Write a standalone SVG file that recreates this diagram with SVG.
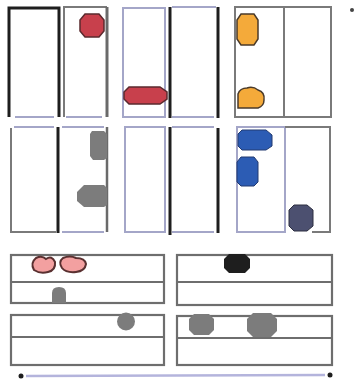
<svg xmlns="http://www.w3.org/2000/svg" width="354" height="379" viewBox="0 0 354 379">
<style>
.blk{fill:none;stroke:#1e1e1e;stroke-width:3}
.gry{fill:none;stroke:#7a7a7a;stroke-width:2}
.lav{fill:none;stroke:#a4a6c8;stroke-width:2}
.box{fill:none;stroke:#6e6e6e;stroke-width:2.2}
.red{fill:#c8404c;stroke:#5a2a2e;stroke-width:1.5}
.org{fill:#f4aa3a;stroke:#4a3a2a;stroke-width:1.5}
.blu{fill:#2c5cb4;stroke:#223a70;stroke-width:1}
.gb{fill:#7c7c7c}
</style>
<rect width="354" height="379" fill="#ffffff"/>
<g id="top-row">
  <path class="blk" d="M9,117 V8 H59 V117"/>
  <line class="lav" x1="15" y1="117" x2="54" y2="117"/>
  <path class="gry" d="M64,117 V7 H107"/>
  <line x1="107" y1="7" x2="107" y2="117" stroke="#6a6a6a" stroke-width="3"/>
  <line class="lav" x1="66" y1="117" x2="102" y2="117"/>
  <rect class="lav" x="123" y="8" width="42" height="109"/>
  <line x1="170" y1="7" x2="170" y2="118" stroke="#1e1e1e" stroke-width="3"/>
  <line class="lav" x1="172" y1="7" x2="216" y2="7"/>
  <line x1="218" y1="7" x2="218" y2="118" stroke="#1e1e1e" stroke-width="3"/>
  <line class="lav" x1="172" y1="117" x2="214" y2="117"/>
  <rect class="gry" x="235" y="7" width="96" height="110" stroke="#8a8aa0"/>
  <line class="gry" x1="284" y1="8" x2="284" y2="117"/>
  <polygon class="red" points="85,14 99,14 104,20 104,31 99,37 85,37 80,31 80,20"/>
  <polygon class="red" points="129,87 160,87 167,92 167,99 160,104 129,104 124,99 124,92"/>
  <polygon class="org" points="241,14 254,14 258,20 258,39 254,45 241,45 237,39 237,20"/>
  <path class="org" d="M238,108 V94 Q240,88 247,88 Q253,86 258,90 Q265,92 264,100 Q264,106 258,108 Z"/>
</g>
<g id="bottom-row">
  <path class="gry" d="M11,128 V232 H56"/>
  <line class="lav" x1="14" y1="127" x2="54" y2="127"/>
  <line x1="58" y1="127" x2="58" y2="233" stroke="#1e1e1e" stroke-width="3"/>
  <line x1="107" y1="127" x2="107" y2="232" stroke="#6a6a6a" stroke-width="2.5"/>
  <line class="lav" x1="62" y1="127" x2="104" y2="127"/>
  <line class="lav" x1="62" y1="232" x2="104" y2="232"/>
  <rect class="lav" x="125" y="127" width="40" height="105"/>
  <line x1="170" y1="127" x2="170" y2="235" stroke="#1e1e1e" stroke-width="3"/>
  <line class="lav" x1="172" y1="127" x2="214" y2="127"/>
  <line class="lav" x1="172" y1="232" x2="214" y2="232"/>
  <line x1="218" y1="128" x2="218" y2="233" stroke="#1e1e1e" stroke-width="3"/>
  <rect class="lav" x="237" y="127" width="48" height="105" stroke="#9c9cb4"/>
  <path class="gry" d="M285,127 H330 V232 H312"/>
  <path class="gb" d="M92,131 H104 L107,134 V158 L104,160 H93 L90,156 V134 Z"/>
  <path class="gb" d="M84,185 H104 L107,188 V205 L104,207 H84 L77,201 V192 Z"/>
  <path class="blu" d="M242,130 H266 L272,135 V146 L266,150 H242 L238,146 V134 Z"/>
  <path class="blu" d="M241,157 H254 L258,162 V182 L254,186 H241 L237,182 V162 Z"/>
  <path d="M294,205 H307 L313,210 V226 L307,231 H294 L289,226 V210 Z" fill="#4c5070" stroke="#2c2e40" stroke-width="1"/>
</g>
<g id="lower-boxes">
  <rect class="box" x="11" y="255" width="153" height="48"/>
  <line class="box" x1="11" y1="282" x2="164" y2="282"/>
  <rect class="box" x="177" y="255" width="155" height="50"/>
  <line class="box" x1="177" y1="282" x2="332" y2="282"/>
  <rect class="box" x="11" y="315" width="153" height="50"/>
  <line class="box" x1="11" y1="337" x2="164" y2="337"/>
  <rect class="box" x="177" y="316" width="155" height="49"/>
  <line class="box" x1="177" y1="338" x2="332" y2="338"/>
  <path d="M36,258 Q42,255 46,259 Q52,255 55,262 Q56,270 48,272 Q40,274 34,270 Q30,263 36,258 Z" fill="#f3a0a0" stroke="#5a3030" stroke-width="2"/>
  <path d="M63,258 Q70,255 76,258 Q85,258 86,264 Q85,271 76,272 Q66,273 62,268 Q58,262 63,258 Z" fill="#f3a0a0" stroke="#5a3030" stroke-width="2"/>
  <path d="M52,303 V293 Q52,287 59,287 Q66,287 66,293 V303 Z" fill="#7c7c7c"/>
  <path d="M229,254 H245 L250,259 V268 L245,273 H229 L224,268 V259 Z" fill="#1e1e1e"/>
  <circle cx="126" cy="321.5" r="9" fill="#7c7c7c"/>
  <path d="M194,314 H209 L214,319 V330 L209,335 H194 L189,330 V319 Z" fill="#7c7c7c"/>
  <path d="M253,313 H271 L277,319 V331 L271,337 H253 L247,331 V319 Z" fill="#7c7c7c"/>
</g>
<g id="base-line">
  <line x1="26" y1="376" x2="325" y2="375" stroke="#b4b4dc" stroke-width="2.5"/>
  <circle cx="21" cy="376" r="2.5" fill="#1e1e1e"/>
  <circle cx="330" cy="375" r="2.5" fill="#1e1e1e"/>
</g>
<circle cx="352" cy="10" r="2" fill="#444"/>
</svg>
